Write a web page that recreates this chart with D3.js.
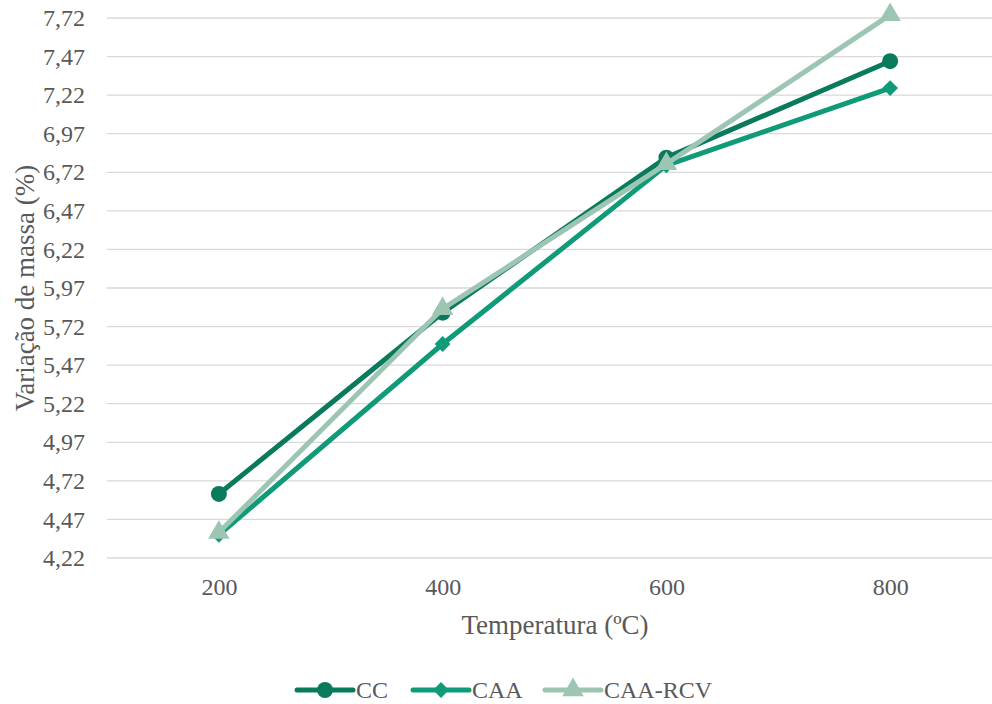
<!DOCTYPE html>
<html>
<head>
  <meta charset="utf-8" />
  <title>Variação de massa</title>
  <style>
    body { margin: 0; background: #fff; }
    text { font-family: "Liberation Serif", "Times New Roman", serif; fill: #595959; }
  </style>
</head>
<body>
  <svg id="chart" width="992" height="704"></svg>
  <script src="https://cdn.jsdelivr.net/npm/d3@7/dist/d3.min.js"></script>
  <script>
    var temps = ['200', '400', '600', '800']
    var yTicks = [4.22, 4.47, 4.72, 4.97, 5.22, 5.47, 5.72, 5.97, 6.22, 6.47, 6.72, 6.97, 7.22, 7.47, 7.72]
    var seriesNames = ['CC', 'CAA', 'CAA-RCV']
    var ccValues = [4.635, 5.81, 6.815, 7.44]
    var caaValues = [4.37, 5.607, 6.765, 7.266]
    var rcvValues = [4.385, 5.835, 6.775, 7.74]
    var colors = ['#0a7a5d', '#0f9a78', '#9dc5b3']

    var series = [
      { name: seriesNames[0], values: ccValues, color: colors[0], shape: d3.symbolCircle, size: 200, rot: 0 },
      { name: seriesNames[1], values: caaValues, color: colors[1], shape: d3.symbolSquare, size: 125, rot: 45 },
      { name: seriesNames[2], values: rcvValues, color: colors[2], shape: d3.symbolTriangle, size: 200, rot: 0 }
    ]

    var svg = d3.select('#chart')
    var plotLeft = 107, plotRight = 1002, plotTop = 18, plotBottom = 558

    var x = d3.scalePoint().domain(temps).range([plotLeft, plotRight]).padding(0.5)
    var y = d3.scaleLinear().domain([4.22, 7.72]).range([plotBottom, plotTop])

    // gridlines
    svg.append('g')
      .selectAll('line')
      .data(yTicks)
      .enter()
      .append('line')
      .attr('x1', plotLeft)
      .attr('x2', plotRight)
      .attr('y1', function (d) { return y(d) })
      .attr('y2', function (d) { return y(d) })
      .attr('stroke', '#d9d9d9')
      .attr('stroke-width', 1.3)

    var yAxis = d3.axisLeft(y).tickValues(yTicks).tickSize(0).tickPadding(22)
      .tickFormat(function (d) { return d.toFixed(2).replace('.', ',') })
    svg.append('g')
      .attr('transform', 'translate(' + plotLeft + ',0)')
      .call(yAxis)
      .call(function (g) { g.select('.domain').remove() })
      .selectAll('text')
      .style('font-size', '24px')
      .style('font-family', '"Liberation Serif", serif')
      .attr('fill', '#595959')

    var xAxis = d3.axisBottom(x).tickSize(0).tickPadding(20)
    svg.append('g')
      .attr('transform', 'translate(0,' + plotBottom + ')')
      .call(xAxis)
      .call(function (g) { g.select('.domain').remove() })
      .selectAll('text')
      .style('font-size', '24px')
      .style('font-family', '"Liberation Serif", serif')
      .attr('fill', '#595959')

    svg.append('text')
      .attr('x', 555)
      .attr('y', 634)
      .attr('text-anchor', 'middle')
      .style('font-size', '27px')
      .text('Temperatura (ºC)')

    svg.append('text')
      .attr('transform', 'translate(34,288) rotate(-90)')
      .attr('text-anchor', 'middle')
      .style('font-size', '27px')
      .text('Variação de massa (%)')

    var line = d3.line()
      .x(function (d, i) { return x(temps[i]) })
      .y(function (d) { return y(d) })

    series.forEach(function (s) {
      var g = svg.append('g')
      g.append('path')
        .attr('d', line(s.values))
        .attr('fill', 'none')
        .attr('stroke', s.color)
        .attr('stroke-width', 5)
        .attr('stroke-linejoin', 'round')
        .attr('stroke-linecap', 'round')
      g.selectAll('path.m')
        .data(s.values)
        .enter()
        .append('path')
        .attr('class', 'm')
        .attr('transform', function (d, i) {
          return 'translate(' + x(temps[i]) + ',' + y(d) + ') rotate(' + s.rot + ')'
        })
        .attr('d', d3.symbol().type(s.shape).size(s.size))
        .attr('fill', s.color)
    })

    // legend
    var legendX = [297, 413, 545]
    var legend = svg.append('g')
    series.forEach(function (s, i) {
      var lg = legend.append('g').attr('transform', 'translate(' + legendX[i] + ',690)')
      lg.append('line')
        .attr('x1', 0).attr('x2', 56)
        .attr('stroke', s.color)
        .attr('stroke-width', 5)
        .attr('stroke-linecap', 'round')
      lg.append('path')
        .attr('transform', 'translate(28,0) rotate(' + s.rot + ')')
        .attr('d', d3.symbol().type(s.shape).size(s.size))
        .attr('fill', s.color)
      lg.append('text')
        .attr('x', 59)
        .attr('y', 8)
        .style('font-size', '24px')
        .text(s.name)
    })
  </script>
</body>
</html>
